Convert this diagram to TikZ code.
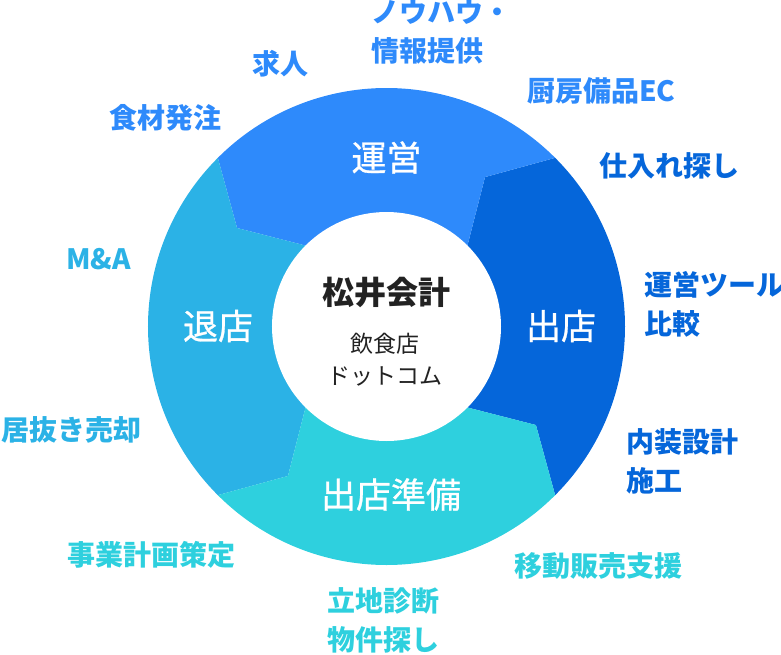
\documentclass[tikz,border=0pt]{standalone}
\usepackage{fontspec}
\setmainfont{Noto Sans CJK JP}
\newfontfamily\phasefont[FakeBold=0.8]{Noto Sans CJK JP}
\definecolor{unei}{HTML}{2E8AFB}
\definecolor{shutten}{HTML}{0566DA}
\definecolor{junbi}{HTML}{2ED0DE}
\definecolor{taiten}{HTML}{2BB2E6}
\definecolor{ink}{HTML}{222222}
\begin{document}
\begin{tikzpicture}[x=1pt, y=1pt,
    phase/.style={text=white, inner sep=0pt, font=\phasefont\fontsize{35}{40}\selectfont},
    item/.style={inner sep=0pt, anchor=west, align=left, font=\bfseries\fontsize{28}{39}\selectfont}]
\useasboundingbox (-386.5,-327.5) rectangle (394.5,326.5);

\fill[shutten] (-45:114.5) -- (-33.4:179) -- (-45:238.5) arc[start angle=-45, end angle=45, radius=238.5] -- (56.6:179) -- (45:114.5) -- cycle;
\fill[unei] (45:114.5) -- (56.6:179) -- (45:238.5) arc[start angle=45, end angle=135, radius=238.5] -- (146.6:179) -- (135:114.5) -- cycle;
\fill[taiten] (135:114.5) -- (146.6:179) -- (135:238.5) arc[start angle=135, end angle=225, radius=238.5] -- (236.6:179) -- (225:114.5) -- cycle;
\fill[junbi] (225:114.5) -- (236.6:179) -- (225:238.5) arc[start angle=225, end angle=315, radius=238.5] -- (326.6:179) -- (315:114.5) -- cycle;
\node[circle, fill=white, minimum size=229pt, inner sep=0pt] (H) at (0,0) {};

\node[text=ink, inner sep=0pt, font=\bfseries\fontsize{32}{36}\selectfont] (M) at (0,34.5) {松井会計};
\node[text=ink, inner sep=0pt, align=center, font=\fontsize{23}{32}\selectfont] (D) at (-2,-33.5) {飲食店\\ドットコム};

\node[phase] (U) at (0,169) {運営};
\node[phase] (S) at (174.5,0.5) {出店};
\node[phase] (T) at (-168.5,0.5) {退店};
\node[phase] (J) at (4.5,-168) {出店準備};

\node[item, text=unei] (U1) at (-15.5,294.5) {ノウハウ・\\情報提供};
\node[item, text=unei] (U2) at (140.5,236) {厨房備品EC};
\node[item, text=unei] (U3) at (-134.5,262.5) {求人};
\node[item, text=unei] (U4) at (-277.5,209) {食材発注};
\node[item, text=shutten] (S1) at (212.5,160.5) {仕入れ探し};
\node[item, text=shutten] (S2) at (257.5,22.5) {運営ツール\\比較};
\node[item, text=shutten] (S3) at (239.5,-135) {内装設計\\施工};
\node[item, text=junbi] (J1) at (127.5,-239) {移動販売支援};
\node[item, text=junbi] (J2) at (-59.5,-293.5) {立地診断\\物件探し};
\node[item, text=junbi] (J3) at (-319.5,-228) {事業計画策定};
\node[item, text=taiten] (T1) at (-320.5,67.5) {M\&A};
\node[item, text=taiten] (T2) at (-385.5,-103) {居抜き売却};
\end{tikzpicture}
\end{document}
